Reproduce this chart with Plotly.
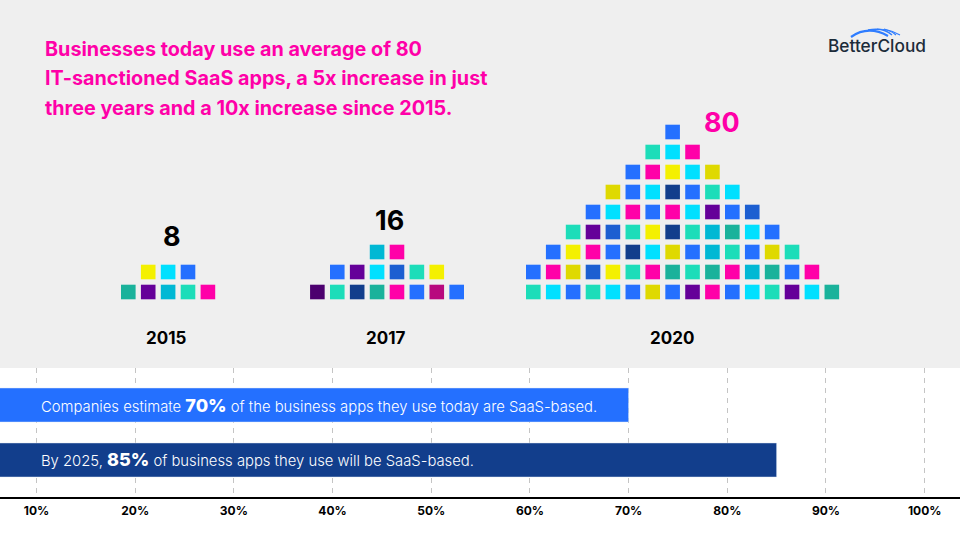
import plotly.graph_objects as go

# colours of the little app squares
BLUE = "#2470ff"
CYAN = "#00e0ff"
CYAN2 = "#00b8d4"
MINT = "#1cddb9"
TEAL = "#1ab29b"
PINK = "#ff00a8"
DPINK = "#b8097e"
YELLOW = "#f4f000"
OLIVE = "#dfd900"
PURPLE = "#650099"
DPURPLE = "#4c006f"
NAVY = "#123e8c"
MIDBLUE = "#1c5fd1"

# each year is a list of rows, bottom row first
APPS_2015 = [
    [TEAL, PURPLE, CYAN2, MINT, PINK],
    [YELLOW, CYAN, BLUE],
]
APPS_2017 = [
    [DPURPLE, MINT, NAVY, TEAL, PINK, BLUE, DPINK, BLUE],
    [BLUE, PURPLE, CYAN, MIDBLUE, MINT, YELLOW],
    [CYAN2, PINK],
]
APPS_2020 = [
    [MINT, CYAN, BLUE, MINT, CYAN, BLUE, OLIVE, BLUE, PURPLE, PINK, BLUE, CYAN, MINT, PURPLE, CYAN, TEAL],
    [BLUE, PINK, OLIVE, MIDBLUE, YELLOW, MINT, PINK, TEAL, MINT, TEAL, PINK, CYAN2, TEAL, BLUE, PINK],
    [BLUE, YELLOW, PINK, BLUE, NAVY, CYAN, OLIVE, BLUE, CYAN2, MINT, BLUE, OLIVE, MINT],
    [MINT, PURPLE, MIDBLUE, MINT, YELLOW, NAVY, MINT, CYAN2, TEAL, CYAN, BLUE],
    [BLUE, CYAN, PINK, BLUE, PINK, CYAN, PURPLE, BLUE, MIDBLUE],
    [OLIVE, BLUE, CYAN, NAVY, BLUE, MINT, CYAN],
    [BLUE, PINK, YELLOW, CYAN, OLIVE],
    [MINT, CYAN, PINK],
    [BLUE],
]
# first column of each row, in grid units
STARTS_2015 = [0, 1]
STARTS_2017 = [9.5, 10.5, 12.5]
STARTS_2020 = [20.35, 20.35, 21.35, 22.35, 23.35, 24.35, 25.35, 26.35, 27.35]

BAR_NAMES = ["today", "2025"]
BAR_VALUES = [70, 85]
BAR_COLORS = ["#2470ff", "#123e8c"]
BAR_TEXT = [
    "Companies estimate <span style='font-size:18px;font-weight:800'>70%</span> of the business apps they use today are SaaS-based.",
    "By 2025, <span style='font-size:18px;font-weight:800'>85%</span> of business apps they use will be SaaS-based.",
]
PCT_TICKS = [10, 20, 30, 40, 50, 60, 70, 80, 90, 100]
PCT_LABELS = ["10%", "20%", "30%", "40%", "50%", "60%", "70%", "80%", "90%", "100%"]

HEADLINE = [
    "Businesses today use an average of 80",
    "IT-sanctioned SaaS apps, a 5x increase in just",
    "three years and a 10x increase since 2015.",
]
FONT = "Inter"


def px(x):
    return x / 960


def py(y):
    return 1 - y / 540


fig = go.Figure()

# bars at the bottom
fig.add_trace(go.Bar(
    x=BAR_VALUES,
    y=BAR_NAMES,
    orientation="h",
    marker_color=BAR_COLORS,
    width=0.62,
    xaxis="x",
    yaxis="y",
    hoverinfo="skip",
))

# the squares, one trace per year
for apps, starts in [(APPS_2015, STARTS_2015), (APPS_2017, STARTS_2017), (APPS_2020, STARTS_2020)]:
    xs, ys, cs = [], [], []
    for r, row in enumerate(apps):
        for c, col in enumerate(row):
            xs.append(starts[r] + c)
            ys.append(r)
            cs.append(col)
    fig.add_trace(go.Scatter(
        x=xs,
        y=ys,
        mode="markers",
        marker=dict(symbol="square", size=14.6, color=cs, line=dict(width=0)),
        xaxis="x2",
        yaxis="y2",
        hoverinfo="skip",
    ))

notes = []
for line, y in zip(HEADLINE, [48.8, 78.3, 107.8]):
    notes.append(dict(text=line, x=px(43), y=py(y), xanchor="left", font=dict(size=19.8, color="#ff00a8", weight=700)))
for label, x, y, size, color in [
    ("8", 171.5, 236, 27, "#000000"),
    ("16", 389, 220, 27, "#000000"),
    ("80", 721.5, 123, 27, "#ff00a8"),
    ("2015", 166, 338, 17, "#000000"),
    ("2017", 386, 338, 17, "#000000"),
    ("2020", 672, 338, 17, "#000000"),
]:
    notes.append(dict(text=label, x=px(x), y=py(y), xanchor="center", font=dict(size=size, color=color, weight=700)))
for label, y in zip(BAR_TEXT, [405, 459.5]):
    notes.append(dict(text=label, x=px(39), y=py(y), xanchor="left", font=dict(size=14.8, color="#ffffff", weight=300)))
notes.append(dict(text="BetterCloud", x=px(877), y=py(46), xanchor="center", font=dict(size=17.3, color="#1c2b39", weight=500)))
for n in notes:
    n.update(xref="paper", yref="paper", yanchor="middle", showarrow=False, font={"family": FONT, **n["font"]})


def arc(x0, y0, cx, cy, x1, y1):
    return f"M {px(x0)} {py(y0)} Q {px(cx)} {py(cy)} {px(x1)} {py(y1)}"


shapes = [
    dict(type="rect", xref="paper", yref="paper", x0=0, x1=1, y0=py(368), y1=1,
         fillcolor="#efefef", line_width=0, layer="below"),
]
for x0, y0, cx, cy, x1, y1, w in [
    (851, 37, 868, 25, 888, 36, 2.2),
    (868, 30, 884, 27, 892, 35, 1.4),
    (877, 29, 890, 29, 896, 35, 1.2),
    (884, 29, 893, 31, 900, 35, 1.1),
]:
    shapes.append(dict(type="path", xref="paper", yref="paper", path=arc(x0, y0, cx, cy, x1, y1),
                       line=dict(color="#2f7dff", width=w)))

fig.update_layout(
    width=960,
    height=540,
    margin=dict(l=0, r=0, t=0, b=0),
    paper_bgcolor="#ffffff",
    plot_bgcolor="rgba(0,0,0,0)",
    showlegend=False,
    font=dict(family=FONT),
    annotations=notes,
    shapes=shapes,
    xaxis=dict(
        domain=[0, 1],
        range=[6.3, 103.58],
        tickvals=PCT_TICKS,
        ticktext=PCT_LABELS,
        ticks="",
        ticklabelstandoff=2,
        tickfont=dict(family=FONT, size=12, color="#000000", weight=700),
        showgrid=True,
        gridcolor="#c4c4c4",
        griddash="5px,5px",
        gridwidth=1,
        showline=True,
        linecolor="#000000",
        linewidth=2,
        zeroline=False,
        anchor="y",
        fixedrange=True,
    ),
    yaxis=dict(
        domain=[py(497), py(368)],
        type="category",
        range=[1.673, -0.673],
        visible=False,
        fixedrange=True,
    ),
    xaxis2=dict(domain=[0, 1], range=[-6.447, 41.79], visible=False, anchor="y2", fixedrange=True),
    yaxis2=dict(domain=[py(368), 1], range=[-3.8, 14.6], visible=False, anchor="x2", fixedrange=True),
)

fig.write_html("out.html", config={"displayModeBar": False}, post_script="document.body.style.margin='0';")
